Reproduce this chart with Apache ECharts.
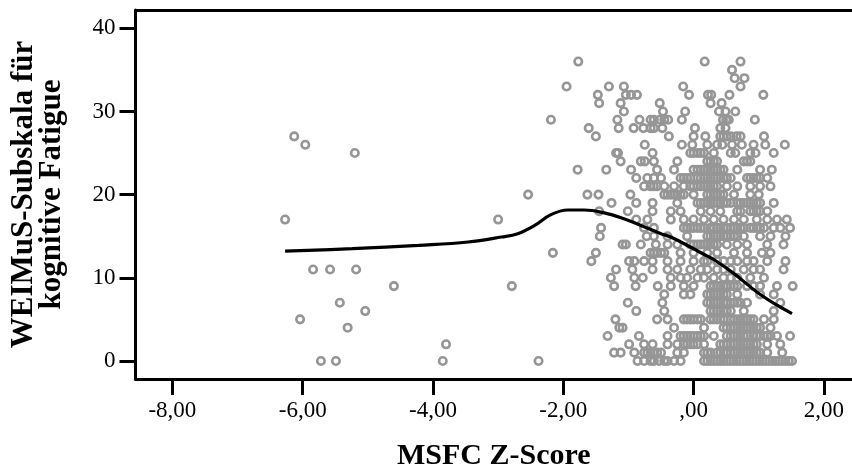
<!DOCTYPE html>
<html>
<head>
<meta charset="utf-8">
<script src="https://cdn.jsdelivr.net/npm/echarts@6/dist/echarts.min.js"></script>
<style>
html,body{margin:0;padding:0;background:#fff;}
#chart{width:852px;height:476px;}
</style>
</head>
<body>
<div id="chart"></div>
<script>
// ---- Data: MSFC Z-Score values for each WEIMuS cognitive fatigue score ----
const s36 = [-1.77, 0.17, 0.72];
const s35 = [0.59];
const s34 = [0.63, 0.78];
const s33 = [-1.95, -1.30, -1.07, -0.16, 0.72];
const s32 = [-1.47, -1.04, -0.96, -0.87, -0.07, 0.22, 0.27, 0.55, 1.07];
const s31 = [-1.45, -1.12, -0.52, 0.26, 0.43];
const s30 = [-1.07, -0.47, -0.13, 0.39, 0.49, 0.64];
const s29 = [-2.19, -1.17, -0.83, -0.66, -0.61, -0.52, -0.45, -0.39, -0.18, 0.45, 0.50, 0.54, 0.94];
const s28 = [-1.61, -1.15, -0.92, -0.77, -0.66, -0.61, -0.48, 0.02, 0.41, 0.49];
const s27 = [-6.13, -1.50, -0.38, 0.00, 0.18, 0.41, 0.46, 0.51, 0.57, 0.66, 0.72, 1.08];
const s26 = [-5.96, -0.75, -0.18, -0.02, 0.21, 0.36, 0.44, 0.59, 0.74, 0.92, 1.10, 1.40];
const s25 = [-5.20, -1.19, -1.16, -0.63, -0.05, 0.00, 0.06, 0.11, 0.16, 0.31, 0.57, 0.64, 0.87, 0.95, 1.23];
const s24 = [-1.12, -0.81, -0.75, -0.61, -0.25, 0.21, 0.26, 0.31, 0.36, 0.77, 0.82, 0.87];
const s23 = [-1.78, -1.34, -0.96, -0.56, -0.30, 0.00, 0.06, 0.11, 0.16, 0.21, 0.26, 0.31, 0.36, 0.41, 0.46, 0.67, 1.02, 1.20];
const s22 = [-0.88, -0.71, -0.61, -0.50, -0.20, -0.15, -0.10, -0.05, 0.06, 0.11, 0.16, 0.21, 0.26, 0.31, 0.36, 0.41, 0.46, 0.51, 0.57, 0.82, 0.87, 0.92, 0.97, 1.02, 1.13];
const s21 = [-0.76, -0.66, -0.61, -0.56, -0.45, -0.30, -0.15, -0.05, 0.00, 0.06, 0.11, 0.16, 0.21, 0.26, 0.31, 0.36, 0.51, 0.67, 0.87, 1.02, 1.18];
const s20 = [-2.54, -1.63, -1.46, -0.97, -0.45, -0.40, -0.35, -0.30, -0.25, -0.20, -0.15, 0.00, 0.21, 0.26, 0.31, 0.36, 0.41, 0.46, 0.62, 0.87, 1.00];
const s19 = [-1.26, -0.88, -0.63, -0.25, 0.06, 0.11, 0.16, 0.21, 0.26, 0.31, 0.36, 0.41, 0.46, 0.51, 0.57, 0.67, 0.72, 0.77, 0.82, 0.87, 0.92, 0.97, 1.02, 1.23];
const s18 = [-1.45, -1.01, -0.63, -0.35, -0.20, 0.11, 0.26, 0.41, 0.67, 0.72, 0.87, 0.92, 0.97, 1.02, 1.13];
const s17 = [-6.27, -3.00, -0.88, -0.71, -0.35, -0.15, 0.00, 0.16, 0.31, 0.46, 0.62, 0.77, 0.97, 1.13, 1.28, 1.43];
const s16 = [-1.42, -0.76, -0.61, -0.15, -0.10, -0.05, 0.00, 0.06, 0.11, 0.16, 0.26, 0.31, 0.36, 0.41, 0.46, 0.51, 0.57, 0.62, 0.67, 0.72, 0.77, 0.87, 0.92, 0.97, 1.02, 1.08, 1.23, 1.33, 1.48];
const s15 = [-1.44, -0.72, -0.61, -0.40, -0.10, 0.21, 0.26, 0.31, 0.36, 0.41, 0.46, 0.51, 0.57, 0.62, 0.67, 0.77, 1.02, 1.18, 1.41];
const s14 = [-1.09, -1.04, -0.81, -0.58, -0.40, -0.25, -0.05, 0.00, 0.06, 0.11, 0.16, 0.21, 0.26, 0.31, 0.36, 0.51, 0.67, 0.82, 1.13, 1.38];
const s13 = [-2.16, -1.50, -0.66, -0.61, -0.56, -0.50, -0.45, -0.20, 0.00, 0.21, 0.36, 0.62, 0.82, 1.05, 1.18];
const s12 = [-1.57, -0.99, -0.91, -0.76, -0.63, -0.40, -0.20, 0.00, 0.16, 0.21, 0.36, 0.46, 0.57, 0.67, 0.82, 0.92, 1.13, 1.41];
const s11 = [-5.84, -5.58, -5.18, -1.19, -0.94, -0.63, -0.40, -0.25, -0.05, 0.11, 0.21, 0.36, 0.46, 0.57, 0.77, 0.92, 1.02, 1.38];
const s10 = [-1.27, -0.91, -0.78, -0.35, -0.20, -0.10, 0.06, 0.16, 0.31, 0.46, 0.57, 0.67, 0.87, 1.08];
const s9  = [-4.60, -2.79, -1.22, -0.89, -0.55, -0.35, -0.15, 0.00, 0.26, 0.31, 0.36, 0.41, 0.46, 0.51, 0.57, 0.62, 0.67, 0.82, 0.92, 1.02, 1.28, 1.52];
const s8  = [-0.45, -0.15, -0.05, 0.21, 0.26, 0.31, 0.36, 0.41, 0.46, 0.51, 0.67, 1.02, 1.23];
const s7  = [-5.43, -1.01, -0.48, 0.21, 0.26, 0.31, 0.36, 0.41, 0.46, 0.51, 0.57, 0.62, 0.67, 0.72, 0.82, 1.33];
const s6  = [-5.04, -0.88, -0.45, 0.26, 0.31, 0.36, 0.41, 0.46, 0.51, 0.57, 0.77, 1.23];
const s5  = [-6.04, -1.20, -0.56, -0.40, -0.15, -0.10, -0.05, 0.00, 0.06, 0.11, 0.26, 0.31, 0.36, 0.41, 0.46, 0.57, 0.62, 0.67, 0.72, 0.77, 0.82, 0.87, 0.92, 1.08, 1.23];
const s4  = [-5.31, -1.14, -1.09, -0.30, 0.16, 0.46, 0.51, 0.57, 0.62, 0.67, 0.72, 0.77, 0.82, 0.87, 0.92, 0.97, 1.02, 1.18];
const s3  = [-1.32, -0.84, -0.40, -0.20, -0.15, -0.10, -0.05, 0.00, 0.06, 0.11, 0.16, 0.31, 0.51, 0.57, 0.62, 0.67, 0.72, 0.77, 0.82, 0.92, 0.97, 1.02, 1.08, 1.13, 1.18, 1.28, 1.48];
const s2  = [-3.80, -0.99, -0.76, -0.63, -0.40, -0.25, -0.15, -0.10, -0.05, 0.00, 0.06, 0.16, 0.41, 0.46, 0.51, 0.57, 0.62, 0.67, 0.72, 0.77, 0.82, 0.87, 0.92, 0.97, 1.13, 1.33];
const s1  = [-1.22, -1.12, -0.91, -0.76, -0.71, -0.66, -0.61, -0.56, -0.50, -0.25, -0.15, 0.16, 0.21, 0.26, 0.36, 0.41, 0.46, 0.51, 0.57, 0.62, 0.67, 0.72, 0.77, 0.82, 0.87, 0.92, 0.97, 1.02, 1.13, 1.36];
const s0  = [-5.72, -5.49, -3.85, -2.38, -0.86, -0.76, -0.66, -0.61, -0.53, -0.45, -0.40, -0.30, -0.20, 0.16, 0.21, 0.26, 0.31, 0.36, 0.41, 0.46, 0.51, 0.56, 0.61, 0.66, 0.71, 0.76, 0.81, 0.86, 0.91, 0.96, 1.01, 1.06, 1.11, 1.16, 1.21, 1.26, 1.31, 1.36, 1.41, 1.46, 1.51];

const fatigueScores = [36,35,34,33,32,31,30,29,28,27,26,25,24,23,22,21,20,19,18,17,16,15,14,13,12,11,10,9,8,7,6,5,4,3,2,1,0];
const msfcRows = [s36,s35,s34,s33,s32,s31,s30,s29,s28,s27,s26,s25,s24,s23,s22,s21,s20,s19,s18,s17,s16,s15,s14,s13,s12,s11,s10,s9,s8,s7,s6,s5,s4,s3,s2,s1,s0];

// Loess fit line
const loessX = [-6.27, -5.24, -4.22, -3.46, -2.95, -2.70, -2.44, -2.19, -1.93, -1.68, -1.37, -1.07, -0.81, -0.50, -0.35, -0.05, 0.21, 0.31, 0.62, 0.97, 1.28, 1.51];
const loessY = [13.2, 13.5, 13.9, 14.3, 14.9, 15.3, 16.3, 17.6, 18.15, 18.15, 17.8, 17.1, 16.3, 15.3, 14.9, 13.7, 12.6, 12.2, 10.5, 8.3, 6.7, 5.7];

// Axes ticks
const xTickValues = [-8, -6, -4, -2, 0, 2];
const xTickLabels = ['-8,00', '-6,00', '-4,00', '-2,00', ',00', '2,00'];
const yTickValues = [0, 10, 20, 30, 40];
const xTitle = 'MSFC Z-Score';
const yTitle = 'WEIMuS-Subskala für\nkognitive Fatigue';

// ---- Build ----
const scatterData = [];
fatigueScores.forEach((score, i) => {
  msfcRows[i].forEach(z => scatterData.push([z, score]));
});
const lineData = loessX.map((x, i) => [x, loessY[i]]);

const FONT = '"Liberation Serif", "Times New Roman", serif';
const chart = echarts.init(document.getElementById('chart'), null, {renderer: 'canvas'});
chart.setOption({
  animation: false,
  backgroundColor: '#fff',
  grid: {left: 133, top: 10, right: 0, bottom: 97, containLabel: false},
  xAxis: [{
    type: 'value', min: -8.566, max: 2.431, position: 'bottom',
    splitLine: {show: false},
    axisLine: {show: true, onZero: false, lineStyle: {color: '#000', width: 3}},
    axisTick: {show: true, customValues: xTickValues, length: 16, lineStyle: {color: '#000', width: 3}},
    axisLabel: {show: true, customValues: xTickValues, margin: 20, color: '#000', fontFamily: FONT, fontSize: 23,
      formatter: v => xTickLabels[xTickValues.indexOf(v)]},
    name: xTitle, nameLocation: 'middle', nameGap: 62,
    nameTextStyle: {color: '#000', fontFamily: FONT, fontSize: 30, fontWeight: 'bold'}
  }, {
    type: 'value', min: -8.566, max: 2.431, position: 'top',
    splitLine: {show: false}, axisTick: {show: false}, axisLabel: {show: false},
    axisLine: {show: true, onZero: false, lineStyle: {color: '#000', width: 3}}
  }],
  yAxis: {
    type: 'value', min: -2.17, max: 42.2,
    splitLine: {show: false},
    axisLine: {show: true, onZero: false, lineStyle: {color: '#000', width: 3}},
    axisTick: {show: true, customValues: yTickValues, length: 16, lineStyle: {color: '#000', width: 3}},
    axisLabel: {show: true, customValues: yTickValues, margin: 20, color: '#000', fontFamily: FONT, fontSize: 23},
    name: yTitle, nameLocation: 'middle', nameGap: 70, nameRotate: 90,
    nameTextStyle: {color: '#000', fontFamily: FONT, fontSize: 31, fontWeight: 'bold', lineHeight: 28, align: 'center'}
  },
  series: [{
    type: 'scatter', xAxisIndex: 0, data: scatterData, symbol: 'circle', symbolSize: 7.5,
    itemStyle: {color: 'rgba(0,0,0,0)', borderColor: '#969696', borderWidth: 2.6, opacity: 1},
    emphasis: {disabled: true}, z: 2
  }, {
    type: 'line', xAxisIndex: 0, data: lineData, smooth: 0.4, showSymbol: false,
    lineStyle: {color: '#000', width: 3.2}, emphasis: {disabled: true}, z: 3
  }]
});
</script>
</body>
</html>
